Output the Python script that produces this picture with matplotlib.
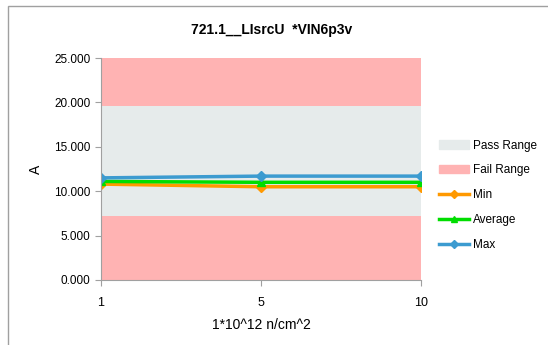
import numpy as np
import matplotlib.pyplot as plt
from matplotlib.patches import Patch, Rectangle
from matplotlib.lines import Line2D

plt.rcParams['font.family'] = ['Liberation Sans', 'DejaVu Sans']

cats = ["1", "5", "10"]
min_vals = [10.8, 10.5, 10.5]
avg_vals = [11.1, 11.0, 11.0]
max_vals = [11.5, 11.7, 11.7]
pass_lo, pass_hi = 7.2, 19.65
y_lo, y_hi = 0, 25

fig = plt.figure(figsize=(5.48, 3.45), dpi=100)
ax = fig.add_axes([101/548, 1 - 280/345, 320/548, 222/345])

x = np.arange(len(cats))
ax.axhspan(y_lo, pass_lo, color="#FFB3B3", lw=0)
ax.axhspan(pass_lo, pass_hi, color="#E6EBEB", lw=0)
ax.axhspan(pass_hi, y_hi, color="#FFB3B3", lw=0)

ax.plot(x, min_vals, color="#FF9900", marker="D", ms=5, lw=2.5)
ax.plot(x, avg_vals, color="#00DD00", marker="^", ms=6, lw=2.5)
ax.plot(x, max_vals, color="#3C9BD0", marker="D", ms=5, lw=2.5)

ax.set_xlim(x[0], x[-1])
ax.set_ylim(y_lo, y_hi)
ax.set_xticks(x)
ax.set_xticklabels(cats, fontsize=9)
ax.set_yticks(np.arange(0, 25.1, 5))
ax.set_yticklabels([f"{v:.3f}" for v in np.arange(0, 25.1, 5)], fontsize=8.5)
for s in ["top", "right"]:
    ax.spines[s].set_visible(False)
for s in ["left", "bottom"]:
    ax.spines[s].set_color("#A0A0A0")
ax.tick_params(colors="#A0A0A0", labelcolor="black", length=4)
ax.tick_params(axis="x", pad=8)

ax.set_xlabel("1*10^12 n/cm^2", fontsize=10, labelpad=7)
ax.set_ylabel("A", fontsize=10, labelpad=8)
fig.text(0.495, 1 - 30/345, "721.1__LIsrcU  *VIN6p3v", ha="center", va="center",
         fontsize=10, fontweight="bold")

handles = [
    Patch(color="#E6EBEB", label="Pass Range"),
    Patch(color="#FFB3B3", label="Fail Range"),
    Line2D([], [], color="#FF9900", marker="D", ms=4, lw=2.5, label="Min"),
    Line2D([], [], color="#00DD00", marker="^", ms=5, lw=2.5, label="Average"),
    Line2D([], [], color="#3C9BD0", marker="D", ms=4, lw=2.5, label="Max"),
]
fig.legend(handles=handles, loc="upper left", bbox_to_anchor=(428/548, 1 - 129/345),
           frameon=False, fontsize=8.5, labelspacing=1.09, handlelength=2.6,
           handletextpad=0.3)

fig.patches.append(Rectangle((8/548, -0.1), 1.0, 1 - 6/345 + 0.1,
                             transform=fig.transFigure, fill=False,
                             edgecolor="#A0A0A0", lw=1))

fig.savefig("out.png", dpi=100)
